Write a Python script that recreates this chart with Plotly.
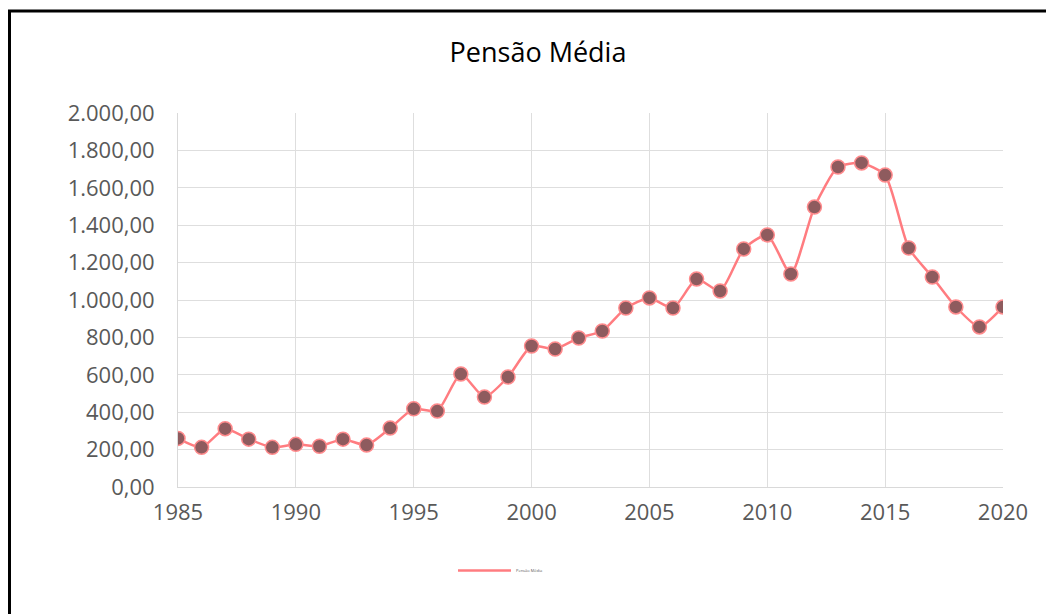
import plotly.graph_objects as go

years = list(range(1985, 2021))
pensao_media = [260, 212, 312, 256, 212, 228, 218, 256, 224, 315,
                418, 406, 604, 481, 588, 754, 738, 797, 834, 957,
                1011, 957, 1112, 1048, 1273, 1348, 1139, 1497, 1711, 1733,
                1668, 1278, 1123, 963, 856, 963]
series_name = "Pensão Média"
title_text = "Pensão Média"

OFF = 8  # page body margin
W, H = 1054, 614
L, R, T, B = 178 - OFF, 1003 - OFF, 113 - OFF, 487 - OFF
pw, ph = R - L, B - T

def px_to_paper_x(px):
    return (px - OFF - L) / pw

def px_to_paper_y(py):
    return (B - (py - OFF)) / ph

fig = go.Figure()
fig.add_trace(go.Scatter(
    x=years, y=pensao_media, mode="lines+markers",
    line=dict(color="#FF7C80", width=2.5, shape="spline", smoothing=0.6),
    marker=dict(size=14, color="#8E5B5E", line=dict(color="#FF8A8C", width=1.5)),
    name=series_name, showlegend=False,
))
fig.add_trace(go.Scatter(
    x=[None], y=[None], mode="lines",
    line=dict(color="#FF7C80", width=2.5),
    name=series_name, showlegend=True,
))

fig.update_layout(
    width=W, height=H, autosize=False,
    margin=dict(l=L, r=W - R, t=T, b=H - B),
    paper_bgcolor="white", plot_bgcolor="white",
    separators=",.",
    font=dict(family="Open Sans", color="#595959"),
    title=dict(text=title_text, x=(538 - OFF) / W, xref="container", xanchor="center",
               y=1 - (53 - OFF) / H, yref="container", yanchor="middle",
               font=dict(size=27, color="#000000", family="Open Sans")),
    xaxis=dict(range=[1985, 2020], tick0=1985, dtick=5, showgrid=True,
               gridcolor="#dedede", gridwidth=1, zeroline=False,
               showline=True, linecolor="#d9d9d9", linewidth=1,
               ticks="", ticklabelstandoff=6,
               tickfont=dict(size=22, color="#595959")),
    yaxis=dict(range=[0, 2000], tick0=0, dtick=200, tickformat=",.2f",
               showgrid=True, gridcolor="#dedede", gridwidth=1,
               zeroline=False, showline=True, linecolor="#d9d9d9", linewidth=1,
               ticks="", ticklabelstandoff=18,
               tickfont=dict(size=22, color="#595959")),
    legend=dict(orientation="h", x=px_to_paper_x(453), y=px_to_paper_y(556),
                xanchor="left", yanchor="top", font=dict(size=4, color="#595959"),
                bgcolor="rgba(0,0,0,0)", itemwidth=53),
    shapes=[dict(type="rect", xref="paper", yref="paper",
                 x0=px_to_paper_x(9.5), x1=px_to_paper_x(1080),
                 y0=px_to_paper_y(11), y1=px_to_paper_y(660),
                 line=dict(color="black", width=3), fillcolor="rgba(0,0,0,0)",
                 layer="below")],
)

fig.write_html("out.html")
